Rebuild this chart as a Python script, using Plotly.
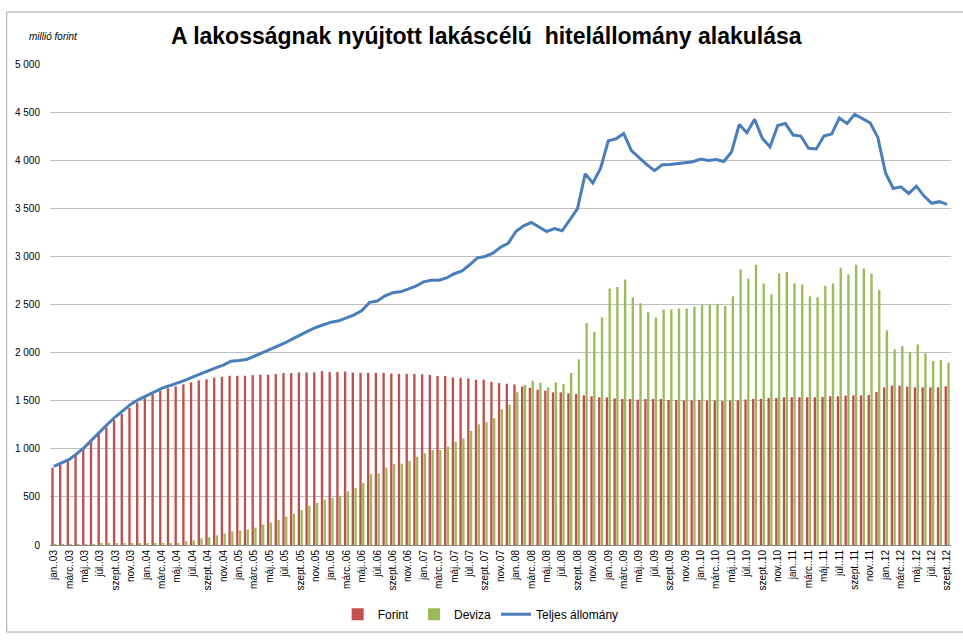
import plotly.graph_objects as go

months = ["jan.", "febr.", "márc.", "ápr.", "máj.", "jún.", "júl.", "aug.", "szept.", "okt.", "nov.", "dec."]
years = ["03", "04", "05", "06", "07", "08", "09", "10", "11", "12"]
categories = [m + "." + y for y in years for m in months][:117]

forint = [
    804, 838, 880, 942, 1007, 1086, 1155, 1223, 1299, 1361, 1423, 1481,
    1526, 1567, 1601, 1629, 1649, 1670, 1691, 1711, 1722, 1739, 1749, 1759,
    1759, 1759, 1766, 1770, 1770, 1777, 1787, 1787, 1794, 1794, 1794, 1808,
    1797, 1797, 1803, 1792, 1789, 1789, 1789, 1789, 1782, 1779, 1779, 1779,
    1775, 1768, 1758, 1758, 1741, 1738, 1731, 1717, 1717, 1696, 1683, 1676,
    1669, 1648, 1635, 1614, 1604, 1587, 1587, 1576, 1570, 1556, 1546, 1535,
    1535, 1525, 1518, 1518, 1511, 1518, 1519, 1519, 1508, 1508, 1502, 1502,
    1508, 1502, 1502, 1495, 1502, 1502, 1512, 1519, 1519, 1529, 1529, 1536,
    1536, 1536, 1536, 1536, 1539, 1546, 1546, 1553, 1556, 1556, 1560, 1591,
    1639, 1656, 1656, 1646, 1639, 1639, 1639, 1639, 1649,
]

deviza = [
    10, 10, 10, 10, 10, 10, 12, 12, 12, 12, 14, 14,
    15, 15, 18, 20, 20, 38, 48, 69, 79, 100, 120, 141,
    151, 162, 182, 213, 234, 261, 296, 326, 364, 407, 438, 471,
    488, 512, 559, 593, 644, 737, 744, 805, 840, 846, 874, 918,
    953, 987, 987, 1021, 1073, 1107, 1186, 1254, 1278, 1319, 1412, 1460,
    1587, 1662, 1707, 1686, 1638, 1690, 1672, 1789, 1929, 2306, 2214, 2365,
    2666, 2683, 2759, 2574, 2513, 2420, 2365, 2448, 2448, 2458, 2458, 2479,
    2496, 2496, 2506, 2485, 2585, 2863, 2770, 2914, 2719, 2605, 2821, 2839,
    2719, 2708, 2585, 2575, 2695, 2719, 2883, 2811, 2914, 2873, 2821, 2650,
    2232, 2033, 2067, 2005, 2084, 1992, 1913, 1923, 1896,
]

teljes = [
    818, 852, 890, 950, 1017, 1098, 1182, 1258, 1333, 1400, 1464, 1512,
    1550, 1592, 1629, 1655, 1680, 1712, 1746, 1780, 1814, 1842, 1869, 1911,
    1918, 1928, 1962, 1996, 2031, 2065, 2100, 2143, 2186, 2224, 2261, 2290,
    2316, 2330, 2365, 2392, 2437, 2522, 2536, 2591, 2622, 2632, 2659, 2690,
    2735, 2752, 2752, 2776, 2820, 2848, 2913, 2985, 2999, 3033, 3095, 3136,
    3259, 3317, 3352, 3307, 3259, 3290, 3266, 3379, 3496, 3859, 3763, 3917,
    4202, 4222, 4277, 4099, 4022, 3953, 3891, 3953, 3956, 3966, 3970, 3984,
    4011, 3997, 4008, 3987, 4086, 4371, 4285, 4426, 4227, 4138, 4361, 4381,
    4261, 4251, 4124, 4117, 4251, 4272, 4439, 4381, 4477, 4433, 4388, 4237,
    3867, 3706, 3723, 3654, 3730, 3627, 3552, 3569, 3541,
]

tick_labels = categories[::2]

FONT = "Liberation Sans, Arial, sans-serif"

fig = go.Figure()
fig.add_trace(go.Bar(name="Forint", x=categories, y=forint, marker=dict(color="#C0504D", line=dict(width=0))))
fig.add_trace(go.Bar(name="Deviza", x=categories, y=deviza, marker=dict(color="#9BBB59", line=dict(width=0))))
fig.add_trace(go.Scatter(name="Teljes állomány", x=categories, y=teljes, mode="lines",
                         line=dict(color="#4A7EBB", width=3)))

fig.update_layout(
    width=963, height=641,
    margin=dict(l=50, r=12, t=64, b=92),
    paper_bgcolor="white", plot_bgcolor="white",
    barmode="group", bargap=0.28, bargroupgap=0.15,
    separators=", ",
    font=dict(family=FONT, size=10, color="#000000"),
    showlegend=True,
    legend=dict(orientation="h", x=0.478, xanchor="center", y=-0.144, yanchor="middle",
                font=dict(size=12, color="#000000"), traceorder="normal", itemwidth=30),
    xaxis=dict(type="category", tickmode="array", tickvals=tick_labels, ticktext=tick_labels,
               tickangle=-90, showgrid=False, showline=True, linecolor="#868686", linewidth=1,
               ticks="", tickfont=dict(size=10), range=[-0.5, 116.5]),
    yaxis=dict(range=[0, 5000], dtick=500, tick0=0, tickformat=",d", showgrid=True,
               gridcolor="#BFBFBF", gridwidth=1.3, zeroline=False, showline=False,
               ticks="", ticklabelstandoff=9, tickfont=dict(size=10)),
    annotations=[
        dict(text="<b>A lakosságnak nyújtott lakáscélú  hitelállomány alakulása</b>",
             xref="paper", yref="paper", x=0.484, y=1.058, xanchor="center", yanchor="middle",
             showarrow=False, font=dict(size=23, family=FONT, color="#000000")),
        dict(text="<i>millió forint</i>", xref="paper", yref="paper", x=-0.025, y=1.058,
             xanchor="left", yanchor="middle", showarrow=False,
             font=dict(size=10, family=FONT, color="#000000")),
    ],
    shapes=[
        dict(type="rect", xref="paper", yref="paper", x0=-0.048, x1=1.03, y0=-0.181, y1=1.108,
             line=dict(color="#A6A6A6", width=1), fillcolor="rgba(0,0,0,0)", layer="below"),
    ],
)

fig.write_html("out.html", config={"displayModeBar": False},
               post_script="document.body.style.margin='0';document.body.style.overflow='hidden';")
